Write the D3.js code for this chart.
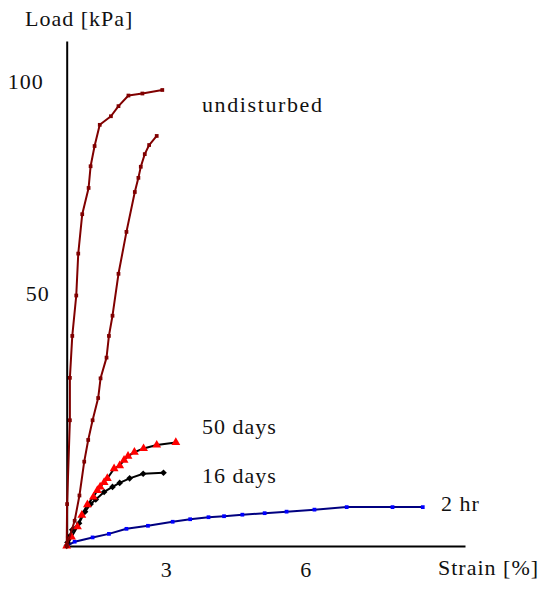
<!DOCTYPE html>
<html>
<head>
<meta charset="utf-8">
<script src="https://cdn.jsdelivr.net/npm/d3@7"></script>
<style>
  body { margin: 0; background: #fff; }
  svg text { font-family: "Liberation Serif", "Tinos", "DejaVu Serif", serif; font-size: 22px; fill: #111; letter-spacing: 1px; }
</style>
</head>
<body>
<div id="chart"></div>
<script>
// values (strain in %, load in kPa)
var undisturbedA = [
  [0, 0], [0.01, 8.3], [0.08, 24.9], [0.08, 33.3], [0.14, 41.6], [0.24, 49.6],
  [0.29, 57.9], [0.39, 65.7], [0.55, 70.9], [0.6, 75.2], [0.7, 79.2], [0.83, 83.4],
  [1.11, 85.1], [1.3, 87.1], [1.55, 89.2], [1.9, 89.6], [2.4, 90.3]
];
var undisturbedB = [
  [0, 0], [0.2, 5], [0.32, 10], [0.44, 16.7], [0.54, 21], [0.65, 24.9], [0.79, 29.3],
  [0.85, 33.2], [1.0, 37.3], [1.06, 41.6], [1.15, 45.6], [1.3, 53.9], [1.5, 62.2],
  [1.71, 70.1], [1.8, 72.9], [1.86, 75.1], [1.96, 77.6], [2.07, 79.4], [2.26, 81.2]
];
var days50 = [
  [0, 0], [0.12, 1.8], [0.27, 3.8], [0.38, 6.1], [0.52, 8.2], [0.67, 9.7], [0.77, 11.0],
  [0.84, 11.7], [0.94, 12.6], [1.02, 13.4], [1.19, 15.3], [1.33, 15.9], [1.44, 17.0],
  [1.54, 17.8], [1.7, 18.6], [1.93, 19.3], [2.26, 20.0], [2.74, 20.5]
];
var days16 = [
  [0, 0], [0.02, 0.7], [0.06, 1.8], [0.14, 3.2], [0.31, 4.5], [0.46, 6.8], [0.6, 8.3],
  [0.73, 9.2], [0.94, 10.7], [1.15, 11.7], [1.33, 12.5], [1.58, 13.4], [1.92, 14.3], [2.43, 14.5]
];
var hr2 = [
  [0, 0], [0.2, 0.85], [0.65, 1.7], [1.06, 2.4], [1.5, 3.4], [2.04, 4.0], [2.66, 4.8],
  [3.1, 5.3], [3.56, 5.7], [3.95, 5.9], [4.41, 6.2], [4.97, 6.5], [5.52, 6.8],
  [6.22, 7.2], [7.03, 7.7], [8.18, 7.7], [8.94, 7.7]
];
var xTicks = [3, 6];
var yTicks = [50, 100];
var seriesLabels = ["undisturbed", "50 days", "16 days", "2 hr"];

var width = 543, height = 589;
var svg = d3.select("#chart").append("svg")
  .attr("width", width)
  .attr("height", height)
  .attr("font-family", "Liberation Serif, DejaVu Serif, serif");

var x = d3.scaleLinear().domain([0, 10]).range([66.7, 465]);
var y = d3.scaleLinear().domain([0, 100]).range([546, 41]);

// axes: plain lines, no tick marks
var xAxis = svg.append("g")
  .attr("transform", "translate(0," + y(0) + ")")
  .call(d3.axisBottom(x).tickValues(xTicks).tickSize(0).tickPadding(14).tickFormat(d3.format("d")));
var yAxis = svg.append("g")
  .attr("transform", "translate(" + x(0) + ",0)")
  .call(d3.axisLeft(y).tickValues(yTicks).tickSize(0).tickPadding(17).tickFormat(d3.format("d")));

[xAxis, yAxis].forEach(function (g) {
  g.attr("font-family", null).attr("font-size", null);
  g.select(".domain").attr("stroke", "#000").attr("stroke-width", 2);
  g.selectAll("text").attr("fill", "#111");
});
xAxis.selectAll(".tick text").attr("dy", "0.71em").attr("y", 15);
// the reference nudges the outer labels away from their ticks
xAxis.selectAll(".tick text").filter(function (d) { return d === 3; }).attr("dx", -20);
yAxis.selectAll(".tick text").filter(function (d) { return d === 100; }).attr("dy", "0.32em").attr("y", 40).attr("x", -23);

svg.append("text").attr("x", 25).attr("y", 25.7).text("Load [kPa]");
svg.append("text").attr("x", 438).attr("y", 575).text("Strain [%]");

var line = d3.line()
  .x(function (d) { return x(d[0]); })
  .y(function (d) { return y(d[1]); });

function drawSeries(data, lineColor, markerColor, symbolType, symbolSize, rotate) {
  svg.append("path")
    .datum(data)
    .attr("fill", "none")
    .attr("stroke", lineColor)
    .attr("stroke-width", 2)
    .attr("stroke-linejoin", "round")
    .attr("d", line);
  svg.append("g").selectAll("path")
    .data(data)
    .join("path")
    .attr("transform", function (d) { return "translate(" + x(d[0]) + "," + y(d[1]) + ")" + (rotate ? " rotate(" + rotate + ")" : ""); })
    .attr("d", d3.symbol().type(symbolType).size(symbolSize))
    .attr("fill", markerColor);
}

drawSeries(hr2, "#000080", "#0000ff", d3.symbolSquare, 14);
drawSeries(days16, "#000", "#000", d3.symbolSquare, 22, 45);
drawSeries(days50, "#000", "#ff0000", d3.symbolTriangle, 34);
drawSeries(undisturbedB, "#800000", "#800000", d3.symbolSquare, 14);
drawSeries(undisturbedA, "#800000", "#800000", d3.symbolSquare, 14);

// series labels
svg.append("text").attr("x", 202).attr("y", 111.7).style("letter-spacing", "1.6px").text(seriesLabels[0]);
svg.append("text").attr("x", 202).attr("y", 434).text(seriesLabels[1]);
svg.append("text").attr("x", 202).attr("y", 482.5).text(seriesLabels[2]);
svg.append("text").attr("x", 441).attr("y", 511).text(seriesLabels[3]);
</script>
</body>
</html>
